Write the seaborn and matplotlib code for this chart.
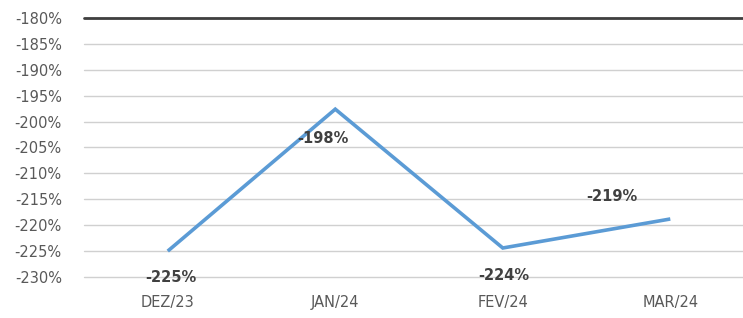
import numpy as np
import pandas as pd
import matplotlib
matplotlib.use("Agg")
import matplotlib.pyplot as plt
import seaborn as sns

# Chart data
months = ["DEZ/23", "JAN/24", "FEV/24", "MAR/24"]
values = [-225.0, -197.6, -224.4, -218.8]
point_labels = ["-225%", "-198%", "-224%", "-219%"]
y_ticks = [-230, -225, -220, -215, -210, -205, -200, -195, -190, -185, -180]

# label offsets in points (x, y) - style only
label_offsets = [(2, -19), (-9, -21), (1, -19.5), (-42, 16)]

sns.set_theme(style="white")
plt.rcParams['font.family'] = ['DejaVu Sans']

LINE_BLUE = '#5B9BD5'
TEXT_GREY = '#595959'
LABEL_DARK = '#404040'

df = pd.DataFrame({'month': months, 'value': values})
df['pos'] = range(len(df))

fig = plt.figure(figsize=(7.43, 3.18), dpi=100)
ax = fig.add_axes([84 / 743, 41 / 318, 659 / 743, 259 / 318])

sns.lineplot(data=df, x='pos', y='value', ax=ax, color=LINE_BLUE,
             linewidth=2.6, solid_joinstyle='miter', solid_capstyle='butt')

ax.set_ylim(-230, -180)
ax.set_yticks(y_ticks)
ax.set_yticklabels([f"{t}%" for t in y_ticks])
ax.set_xlim(-0.5, 3.434)
ax.set_xticks(df['pos'])
ax.set_xticklabels(months)

# gridlines
ax.yaxis.grid(True, color='#D0D0D0', linewidth=1.0)
for gl in ax.get_ygridlines():
    gl.set_clip_on(False)
ax.set_axisbelow(True)
ax.axhline(-180, color='#3F3F3F', linewidth=2.0, zorder=1, clip_on=False)

for s in ax.spines.values():
    s.set_visible(False)

ax.tick_params(axis='y', length=0, pad=16, labelsize=10.5, labelcolor=TEXT_GREY)
ax.tick_params(axis='x', length=0, pad=13, labelsize=10.5, labelcolor=TEXT_GREY)
ax.set_xlabel("")
ax.set_ylabel("")

for i, (v, lab) in enumerate(zip(values, point_labels)):
    dx, dy = label_offsets[i]
    ax.annotate(lab, (i, v), xytext=(dx, dy), textcoords='offset points',
                ha='center', va='center', fontsize=10.5, fontweight='bold',
                color=LABEL_DARK, annotation_clip=False)

fig.savefig("out.png", dpi=100)
